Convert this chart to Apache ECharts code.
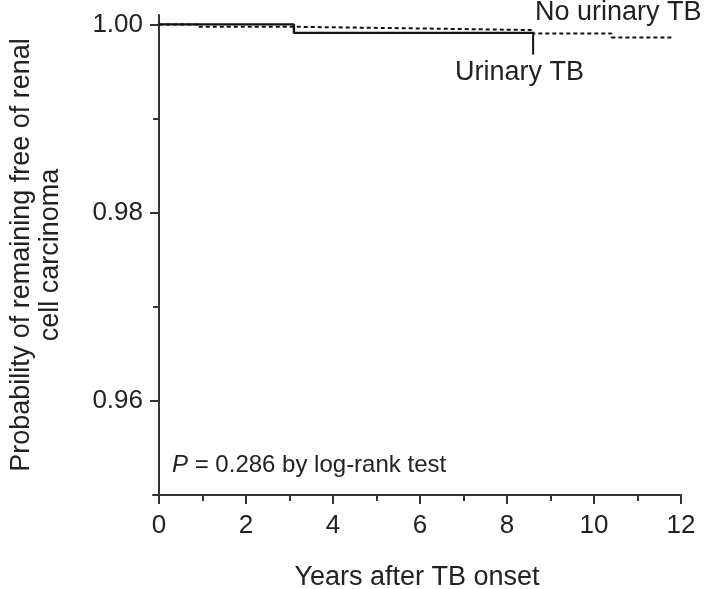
<!DOCTYPE html>
<html>
<head>
<meta charset="utf-8">
<script src="https://cdn.jsdelivr.net/npm/echarts@6/dist/echarts.min.js"></script>
<style>
  html, body { margin: 0; padding: 0; background: #fff; }
  #main { width: 716px; height: 589px; }
</style>
</head>
<body>
<div id="main"></div>
<script>
// Kaplan-Meier style curves (years, probability)
var urinaryTB = [[0, 1.0], [3.1, 0.9991], [8.6, 0.9991]];
var noUrinaryTB = [[0, 1.0], [0.9, 0.99975], [3.1, 0.99957], [6.0, 0.9994], [8.6, 0.99904], [10.4, 0.99862], [11.8, 0.99862]];
// leader line from the end of the urinary TB curve to its label
var urinaryPointer = [[8.6, 0.9991], [8.6, 0.9968]];

var xMajorTicks = [0, 2, 4, 6, 8, 10, 12];
var xMinorTicks = [1, 3, 5, 7, 9, 11];
var yMajorTicks = [0.96, 0.98, 1.00];
var yMinorTicks = [0.95, 0.97, 0.99];

var axisColor = '#333';
var textColor = '#222';
var font = 'Liberation Sans, Arial, sans-serif';

var myChart = echarts.init(document.getElementById('main'));

var option = {
    backgroundColor: '#fff',
    animation: false,
    grid: {
        left: 153,
        right: 35,
        top: 15,
        bottom: 94,
        containLabel: false,
        outerBoundsMode: 'none'
    },
    xAxis: [{
        type: 'value',
        min: -0.14,
        max: 12,
        name: 'Years after TB onset',
        nameLocation: 'middle',
        nameGap: 69,
        nameTextStyle: { fontSize: 27, color: textColor, fontFamily: font },
        splitLine: { show: false },
        axisLine: { onZero: false, lineStyle: { color: axisColor, width: 2 } },
        axisTick: { customValues: xMajorTicks, length: 9, lineStyle: { color: axisColor, width: 2 } },
        axisLabel: {
            customValues: xMajorTicks,
            margin: 18,
            fontSize: 26,
            color: textColor,
            fontFamily: font
        }
    }, {
        type: 'value',
        position: 'bottom',
        min: -0.14,
        max: 12,
        splitLine: { show: false },
        axisLine: { show: false, onZero: false },
        axisTick: { customValues: xMinorTicks, length: 6, lineStyle: { color: axisColor, width: 2 } },
        axisLabel: { show: false }
    }],
    yAxis: [{
        type: 'value',
        min: 0.95,
        max: 1.001,
        name: 'Probability of remaining free of renal\ncell carcinoma',
        nameLocation: 'middle',
        nameGap: 88,
        nameTextStyle: { fontSize: 27, color: textColor, fontFamily: font, lineHeight: 29 },
        splitLine: { show: false },
        axisLine: { onZero: true, lineStyle: { color: axisColor, width: 2 } },
        axisTick: { customValues: yMajorTicks, length: 9, lineStyle: { color: axisColor, width: 2 } },
        axisLabel: {
            customValues: yMajorTicks,
            margin: 10,
            fontSize: 26,
            color: textColor,
            fontFamily: font,
            formatter: function (v) { return v.toFixed(2); }
        }
    }, {
        type: 'value',
        position: 'left',
        min: 0.95,
        max: 1.001,
        splitLine: { show: false },
        axisLine: { show: false, onZero: true },
        axisTick: { customValues: yMinorTicks, length: 6, lineStyle: { color: axisColor, width: 2 } },
        axisLabel: { show: false }
    }],
    graphic: [{
        type: 'text',
        left: 535,
        top: -1,
        style: { text: 'No urinary TB', fontSize: 27, fill: textColor, fontFamily: font }
    }, {
        type: 'text',
        left: 455,
        top: 59,
        style: { text: 'Urinary TB', fontSize: 27, fill: textColor, fontFamily: font }
    }, {
        type: 'text',
        left: 172,
        top: 453,
        style: {
            text: '{i|P} = 0.286 by log-rank test',
            fontSize: 24,
            fill: textColor,
            fontFamily: font,
            rich: { i: { fontStyle: 'italic', fontSize: 24, fontFamily: font, fill: textColor } }
        }
    }],
    series: [{
        name: 'No urinary TB',
        type: 'line',
        step: 'end',
        data: noUrinaryTB,
        showSymbol: false,
        lineStyle: { color: '#111', width: 2, type: [4, 3] }
    }, {
        name: 'Urinary TB',
        type: 'line',
        step: 'end',
        data: urinaryTB,
        showSymbol: false,
        lineStyle: { color: '#111', width: 2.4 }
    }, {
        name: 'pointer',
        type: 'line',
        data: urinaryPointer,
        showSymbol: false,
        lineStyle: { color: '#111', width: 2 }
    }]
};

myChart.setOption(option);
</script>
</body>
</html>
